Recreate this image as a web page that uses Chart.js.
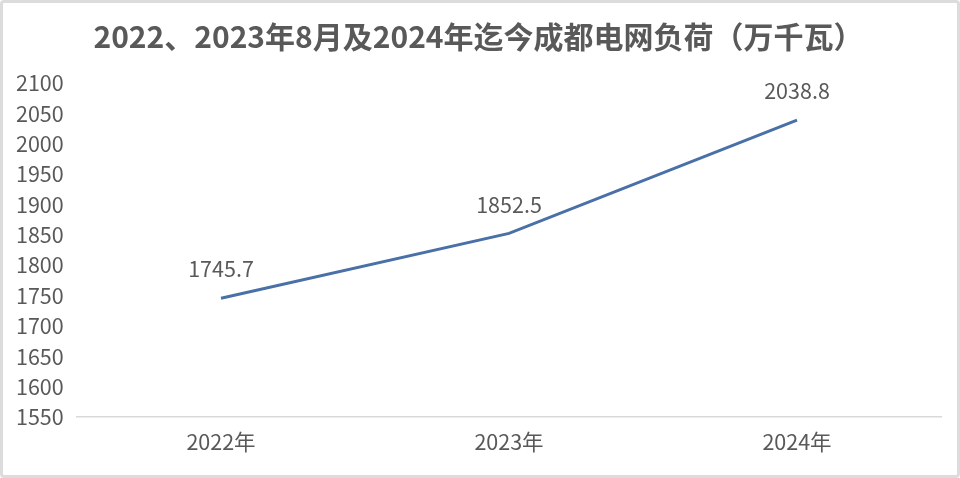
<!DOCTYPE html>
<html>
<head>
<meta charset="utf-8">
<script src="https://cdn.jsdelivr.net/npm/chart.js@4"></script>
<style>
  html, body { margin: 0; padding: 0; background: #fff; }
  #wrap { position: relative; width: 960px; height: 478px; box-sizing: border-box; border: 3px solid #dcdcdc; border-radius: 4px; background: #fff; }
  #c { position: absolute; left: -3px; top: -3px; }
</style>
</head>
<body>
<div id="wrap"><canvas id="c" width="960" height="478"></canvas></div>
<script>
const titleText = '2022、2023年8月及2024年迄今成都电网负荷（万千瓦）';
const categories = ['2022年', '2023年', '2024年'];
const loadValues = [1745.7, 1852.5, 2038.8];
const yTicks = [1550, 1600, 1650, 1700, 1750, 1800, 1850, 1900, 1950, 2000, 2050, 2100];

const FONT = '"Noto Sans CJK SC", "Noto Sans", sans-serif';
const TEXT = '#595959';

const labelPlugin = {
  id: 'valueLabels',
  afterDatasetsDraw(chart) {
    const ctx = chart.ctx;
    const meta = chart.getDatasetMeta(0);
    ctx.save();
    ctx.font = '21.5px ' + FONT;
    ctx.fillStyle = TEXT;
    ctx.textAlign = 'center';
    ctx.textBaseline = 'middle';
    meta.data.forEach((pt, i) => {
      ctx.fillText(String(loadValues[i]), pt.x, pt.y - 29);
    });
    ctx.restore();
  }
};

new Chart(document.getElementById('c'), {
  type: 'line',
  data: {
    labels: categories,
    datasets: [{
      data: loadValues,
      borderColor: '#4a70a8',
      borderWidth: 3,
      pointRadius: 0,
      tension: 0,
      fill: false
    }]
  },
  options: {
    responsive: false,
    animation: false,
    devicePixelRatio: 1,
    layout: { padding: { left: 16, right: 19, top: 0, bottom: 11 } },
    plugins: {
      legend: { display: false },
      tooltip: { enabled: false },
      title: {
        display: true,
        text: titleText,
        color: TEXT,
        font: { family: FONT, size: 30, weight: 'bold' },
        padding: { top: 19, bottom: 28 }
      }
    },
    scales: {
      x: {
        offset: true,
        grid: { display: false, drawTicks: false },
        border: { display: true, color: '#d9d9d9', width: 1.5 },
        ticks: { color: TEXT, font: { family: FONT, size: 21.5 }, padding: 12 }
      },
      y: {
        min: 1550,
        max: 2100,
        afterBuildTicks(axis) { axis.ticks = yTicks.map(v => ({ value: v })); },
        afterFit(axis) { axis.width = 61; },
        grid: { display: false, drawTicks: false },
        border: { display: false },
        ticks: {
          color: TEXT,
          font: { family: FONT, size: 21.5 },
          padding: 0,
          crossAlign: 'far',
          callback: (v) => String(v)
        }
      }
    }
  },
  plugins: [labelPlugin]
});
</script>
</body>
</html>
